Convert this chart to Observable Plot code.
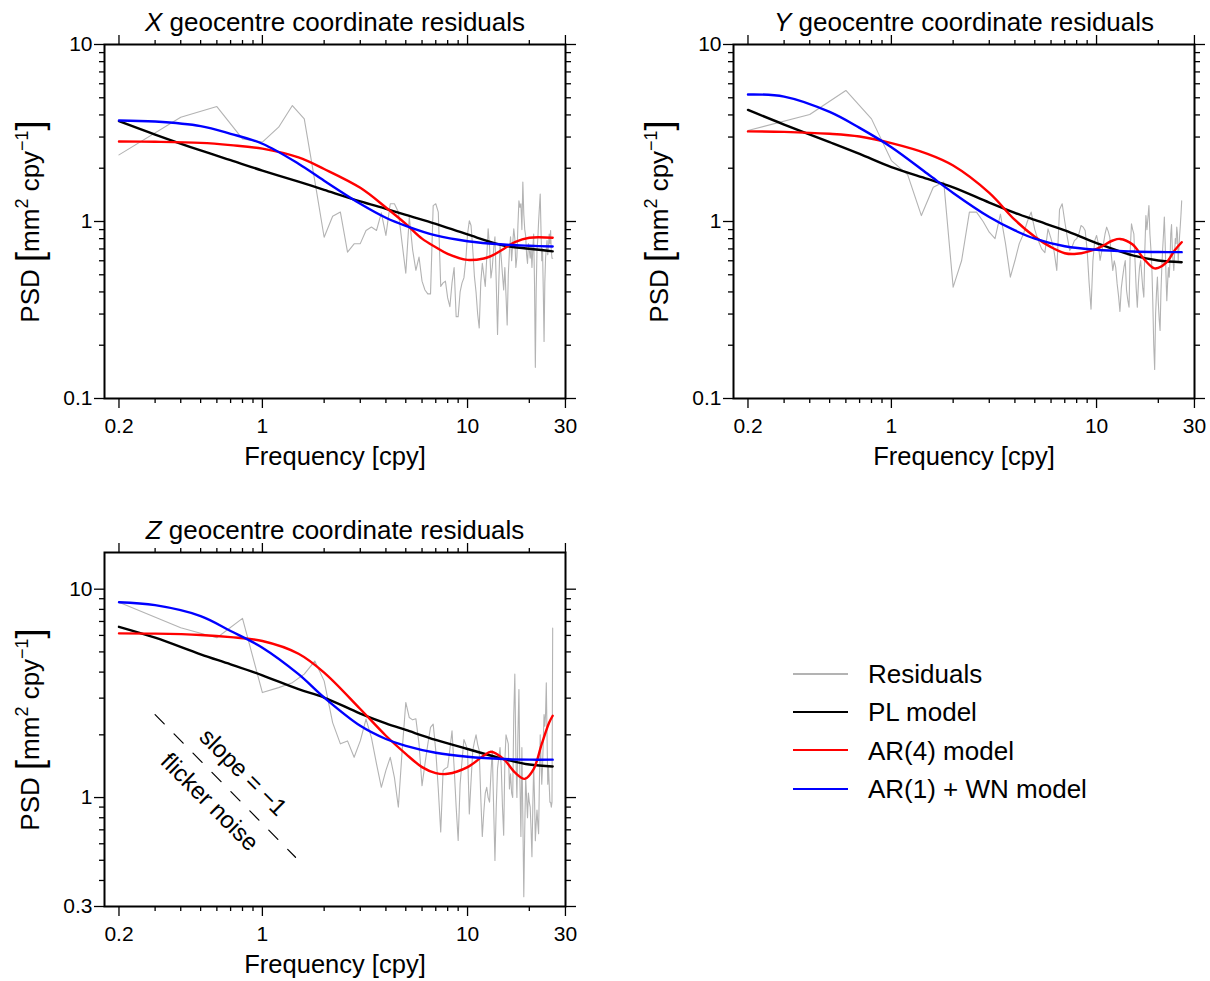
<!DOCTYPE html>
<html>
<head>
<meta charset="utf-8">
<script src="https://cdn.jsdelivr.net/npm/d3@7"></script>
<script src="https://cdn.jsdelivr.net/npm/@observablehq/plot@0.6"></script>
<style>
  html, body { margin: 0; padding: 0; background: #fff; overflow: hidden; }
  #fig { position: relative; width: 1210px; height: 981px; font-family: "Liberation Sans", Arial, Helvetica, sans-serif; }
  .panel { position: absolute; }
  .lg-line { position: absolute; height: 0; }
  .lg-text { position: absolute; font-size: 26px; line-height: 30px; white-space: nowrap; color: #000; }
</style>
</head>
<body>
<div id="fig"></div>
<script>
// ---------------- data ----------------
const xTicksMajor = [0.2, 1, 10, 30];
const xTicksMinor = [0.3, 0.4, 0.5, 0.6, 0.7, 0.8, 0.9, 2, 3, 4, 5, 6, 7, 8, 9, 20];
const yTicksMajorXY = [0.1, 1, 10];
const yTicksMinorXY = [0.2, 0.3, 0.4, 0.5, 0.6, 0.7, 0.8, 0.9, 2, 3, 4, 5, 6, 7, 8, 9];
const yTicksMajorZ = [0.3, 1, 10];
const yTicksMinorZ = [0.4, 0.5, 0.6, 0.7, 0.8, 0.9, 2, 3, 4, 5, 6, 7, 8, 9];

const panelTitles = ["X", "Y", "Z"];

// periodogram frequencies (cpy)
const resFreq = [0.2,0.4,0.6,0.8,1.0,1.2,1.4,1.6,1.8,2.0,2.2,2.4,2.6,2.8,3.0,3.2,3.4,3.6,3.8,4.0,
 4.2,4.4,4.6,4.8,5.0,5.2,5.4,5.6,5.8,6.0,6.2,6.4,6.6,6.8,7.0,7.2,7.4,7.6,7.8,8.0,
 8.2,8.4,8.6,8.8,9.0,9.2,9.4,9.6,9.8,10.0,10.2,10.4,10.6,10.8,11.0,11.2,11.4,11.6,11.8,12.0,
 12.2,12.4,12.6,12.8,13.0,13.2,13.4,13.6,13.8,14.0,14.2,14.4,14.6,14.8,15.0,15.2,15.4,15.6,15.8,16.0,
 16.2,16.4,16.6,16.8,17.0,17.2,17.4,17.6,17.8,18.0,18.2,18.4,18.6,18.8,19.0,19.2,19.4,19.6,19.8,20.0,
 20.2,20.4,20.6,20.8,21.0,21.2,21.4,21.6,21.8,22.0,22.2,22.4,22.6,22.8,23.0,23.2,23.4,23.6,23.8,24.0,
 24.2,24.4,24.6,24.8,25.0,25.2,25.4,25.6,25.8,26.0];

const resX = [2.38,3.88,4.46,2.93,2.81,3.41,4.52,3.80,1.70,0.815,1.07,1.13,0.671,0.748,0.75,0.89,0.93,0.89,1.12,0.834,
 1.26,1.26,1.13,0.75,0.51,1.06,0.69,0.53,0.63,0.46,0.41,0.39,0.39,1.23,1.26,1.13,0.43,0.45,0.46,0.37,
 0.33,0.45,0.55,0.29,0.29,0.40,0.45,0.48,0.60,0.85,1.01,0.95,0.70,0.49,0.40,0.30,0.25,0.45,0.58,0.50,
 0.43,0.62,0.91,0.72,0.48,0.55,0.70,0.82,0.45,0.23,0.45,0.75,0.62,0.50,0.41,0.55,0.38,0.26,0.50,0.68,
 0.82,0.60,0.75,0.91,0.80,0.55,0.63,0.95,1.31,1.20,1.26,0.90,1.67,1.10,0.90,0.83,0.65,0.58,0.75,0.69,
 0.62,0.72,0.55,0.70,0.85,0.45,0.15,0.40,0.69,0.80,1.00,1.20,1.43,0.90,0.60,0.70,0.40,0.21,0.45,0.62,
 0.70,0.78,0.65,0.72,0.85,0.75,0.89,0.68,0.62,0.62];

const resY = [3.27,4.02,5.50,3.80,2.21,1.84,1.08,1.56,1.67,0.426,0.602,1.13,1.13,1.00,0.87,0.80,1.10,0.75,0.485,0.60,
 0.75,0.85,1.00,1.13,0.90,0.78,0.70,0.667,0.909,0.80,0.686,0.529,1.17,1.26,1.00,0.816,0.686,0.72,0.78,0.80,
 0.85,0.949,0.93,0.89,0.686,0.45,0.32,0.60,0.78,0.834,0.75,0.602,0.68,0.748,0.85,0.929,0.88,0.816,0.65,0.529,
 0.60,0.55,0.444,0.38,0.31,0.42,0.485,0.55,0.602,0.408,0.36,0.328,0.70,0.97,0.90,0.852,0.60,0.42,0.328,0.45,
 0.55,0.602,0.50,0.42,0.374,0.70,1.08,0.90,1.05,1.23,0.85,0.70,0.552,0.35,0.20,0.146,0.30,0.40,0.485,0.35,
 0.28,0.242,0.40,0.55,0.70,0.85,1.06,0.75,0.50,0.357,0.45,0.55,0.485,0.60,0.85,0.96,0.70,0.60,0.529,0.65,
 0.80,0.75,0.929,0.85,0.60,0.70,0.834,0.95,1.10,1.31];

const resZ = [8.66,6.53,5.85,7.24,3.19,3.37,3.56,3.91,4.52,3.63,2.29,1.81,1.87,1.56,1.87,2.38,1.94,1.45,1.12,1.35,
 1.56,1.25,0.90,1.68,2.86,2.42,2.36,2.39,1.81,1.14,1.45,1.80,2.17,2.25,1.68,1.10,0.683,1.35,1.38,1.40,
 1.70,2.09,1.40,0.90,0.623,1.16,1.50,1.90,1.80,1.68,0.835,1.20,1.68,1.85,2.00,1.80,1.68,1.00,0.65,0.85,
 1.05,1.12,1.00,0.95,1.30,1.68,0.90,0.499,0.90,1.38,1.55,1.74,1.40,0.90,0.66,1.50,2.00,1.90,1.81,1.10,
 1.30,1.05,1.00,2.50,3.91,1.60,1.00,2.00,3.30,1.20,0.65,1.74,0.80,0.334,0.70,1.25,1.00,0.80,1.05,0.95,
 0.90,0.70,0.52,0.90,1.40,1.00,0.62,0.75,0.87,0.75,0.67,1.20,2.00,1.50,1.16,1.40,1.90,2.50,2.20,2.50,
 3.55,2.00,1.16,1.40,1.16,0.95,0.95,0.90,0.95,6.50];

// model curves
const modelFreq = [0.2, 0.3, 0.5, 0.7, 1, 1.5, 2, 3, 4, 5, 7, 10, 15, 20, 26];
const plX  = [3.69, 3.10, 2.52, 2.22, 1.94, 1.68, 1.51, 1.30, 1.18, 1.09, 0.970, 0.845, 0.732, 0.701, 0.678];
const ar1X = [3.72, 3.67, 3.46, 3.13, 2.75, 2.12, 1.70, 1.26, 1.05, 0.945, 0.834, 0.774, 0.741, 0.729, 0.722];
const plY  = [4.27, 3.53, 2.81, 2.41, 2.03, 1.74, 1.56, 1.28, 1.12, 1.02, 0.89, 0.755, 0.643, 0.602, 0.589];
const ar1Y = [5.22, 5.08, 4.16, 3.38, 2.63, 1.86, 1.45, 1.06, 0.89, 0.80, 0.725, 0.692, 0.677, 0.672, 0.671];
const plZ  = [6.60, 5.85, 4.87, 4.36, 3.86, 3.31, 3.02, 2.53, 2.27, 2.11, 1.89, 1.71, 1.53, 1.44, 1.41];
const ar1Z = [8.66, 8.38, 7.43, 6.30, 5.24, 3.91, 3.02, 2.21, 1.91, 1.77, 1.64, 1.57, 1.53, 1.52, 1.52];

const ar4FreqX = [0.2, 0.3, 0.5, 0.7, 1, 1.5, 2, 3, 4, 5, 6, 7, 8, 10, 12, 13, 15, 17, 20, 26];
const ar4X     = [2.83, 2.82, 2.78, 2.70, 2.58, 2.30, 1.98, 1.55, 1.20, 0.97, 0.80, 0.716, 0.657, 0.607, 0.618, 0.637, 0.70, 0.764, 0.809, 0.809];
const ar4FreqY = [0.2, 0.3, 0.5, 0.7, 1, 1.5, 2, 3, 4, 5, 6, 7, 8, 10, 12, 13, 15, 17, 19, 20, 22, 24, 26];
const ar4Y     = [3.23, 3.21, 3.13, 3.02, 2.77, 2.41, 2.07, 1.45, 1.02, 0.82, 0.716, 0.662, 0.657, 0.701, 0.781, 0.797, 0.741, 0.615, 0.545, 0.547, 0.589, 0.686, 0.764];
const ar4FreqZ = [0.2, 0.3, 0.5, 0.7, 1, 1.5, 2, 3, 4, 5, 6, 7, 8, 10, 12, 13, 15, 17, 19, 21, 23, 25, 26];
const ar4Z     = [6.14, 6.12, 6.03, 5.89, 5.64, 4.90, 3.98, 2.66, 1.98, 1.62, 1.40, 1.31, 1.30, 1.40, 1.59, 1.66, 1.53, 1.32, 1.23, 1.37, 1.81, 2.29, 2.47];

// flicker-noise reference (slope -1) in the Z panel
const slopeFreq = [0.3, 1.45];
const slopePsd = [2.5, 0.517];
const noteText = ["slope = \u22121", "flicker noise"];
const noteFreq = [0.805, 0.553];
const notePsd = [1.32, 0.95];

const legendLabels = ["Residuals", "PL model", "AR(4) model", "AR(1) + WN model"];

// ---------------- drawing ----------------
const FONT = '"Liberation Sans", Arial, Helvetica, sans-serif';
const COL = {res: "#b3b3b3", pl: "#000000", ar4: "#ff0000", ar1: "#0000ff"};
const rows = (fs, vs) => fs.map((f, i) => ({f, v: vs[i]}));
const yLabel = "PSD [mm2 cpy-1]";
const titleSuffix = " geocentre coordinate residuals";

function makePanel(cfg) {
  const ax = {stroke: "black", strokeWidth: 1.3, label: null, tickFormat: () => ""};
  const lineOpts = {x: "f", y: "v", strokeWidth: 2.4, curve: "catmull-rom", clip: true};
  const marks = [
    Plot.line(rows(resFreq, cfg.res), {x: "f", y: "v", stroke: COL.res, strokeWidth: 1.1, clip: true}),
    Plot.line(rows(modelFreq, cfg.pl), {...lineOpts, stroke: COL.pl}),
    Plot.line(rows(cfg.ar4Freq, cfg.ar4), {...lineOpts, stroke: COL.ar4}),
    Plot.line(rows(modelFreq, cfg.ar1), {...lineOpts, stroke: COL.ar1})
  ];
  if (cfg.annotate) {
    marks.push(
      Plot.line(rows(slopeFreq, slopePsd), {x: "f", y: "v", stroke: "black", strokeWidth: 1.2, strokeDasharray: "13,14"}),
      Plot.text(noteText.map((t, i) => ({t, f: noteFreq[i], v: notePsd[i]})),
        {x: "f", y: "v", text: "t", rotate: 45, fontSize: 24, fill: "black"})
    );
  }
  marks.push(
    Plot.frame({stroke: "black", strokeWidth: 2}),
    // ticks on all four sides (outward)
    Plot.axisX(xTicksMajor, {anchor: "bottom", tickSize: 10, ...ax}),
    Plot.axisX(xTicksMinor, {anchor: "bottom", tickSize: 5, ...ax}),
    Plot.axisX(xTicksMajor, {anchor: "top", tickSize: 10, ...ax}),
    Plot.axisX(xTicksMinor, {anchor: "top", tickSize: 5, ...ax}),
    Plot.axisY(cfg.yMajor, {anchor: "left", tickSize: 10, ...ax}),
    Plot.axisY(cfg.yMinor, {anchor: "left", tickSize: 5, ...ax}),
    Plot.axisY(cfg.yMajor, {anchor: "right", tickSize: 10, ...ax}),
    Plot.axisY(cfg.yMinor, {anchor: "right", tickSize: 5, ...ax}),
    // tick labels
    Plot.text(xTicksMajor, {x: d => d, text: d => String(d), frameAnchor: "bottom", dy: 28, fontSize: 21, fill: "black", textAnchor: "middle", lineAnchor: "middle"}),
    Plot.text(cfg.yMajor, {y: d => d, text: d => String(d), frameAnchor: "left", dx: -12, fontSize: 21, fill: "black", textAnchor: "end", lineAnchor: "middle"}),
    // titles
    Plot.text([cfg.title + titleSuffix], {text: d => d, frameAnchor: "top", dy: -32, fontSize: 26, fill: "black", textAnchor: "middle"}),
    Plot.text(["Frequency [cpy]"], {text: d => d, frameAnchor: "bottom", dy: 66, fontSize: 25.5, fill: "black", textAnchor: "middle"}),
    Plot.text([yLabel], {text: d => d, frameAnchor: "left", dx: -74, rotate: -90, fontSize: 26, fill: "black", textAnchor: "middle"})
  );
  const svg = Plot.plot({
    width: 580, height: 480,
    marginLeft: 104, marginRight: 15, marginTop: 44, marginBottom: 82,
    x: {type: "log", domain: [0.17, 30.02]},
    y: {type: "log", domain: cfg.yDomain},
    style: {fontFamily: FONT, fontSize: "20px", color: "black", background: "white", overflow: "visible"},
    marks
  });
  const texts = d3.select(svg).selectAll("text");
  // rich text: italic coordinate letter in the title
  texts.filter(function() { return this.textContent === cfg.title + titleSuffix; }).each(function() {
    const t = d3.select(this);
    t.text(null);
    t.append("tspan").attr("font-style", "italic").text(cfg.title);
    t.append("tspan").text(titleSuffix);
  });
  // rich text: brackets and superscripts in the y label
  texts.filter(function() { return this.textContent === yLabel; }).each(function() {
    const y = d3.select(this);
    y.text(null);
    y.append("tspan").text("PSD ");
    y.append("tspan").attr("font-size", 36).attr("font-weight", 300).attr("dy", 3).text("[");
    y.append("tspan").attr("dy", -3).text("mm");
    y.append("tspan").attr("font-size", 18).attr("dy", -11).text("2");
    y.append("tspan").attr("dy", 11).text(" cpy");
    y.append("tspan").attr("font-size", 18).attr("dy", -11).text("\u22121");
    y.append("tspan").attr("font-size", 36).attr("font-weight", 300).attr("dy", 14).text("]");
  });
  const wrap = document.createElement("div");
  wrap.className = "panel";
  wrap.style.left = cfg.left + "px";
  wrap.style.top = cfg.top + "px";
  wrap.appendChild(svg);
  return wrap;
}

const fig = document.getElementById("fig");
fig.appendChild(makePanel({title: panelTitles[0], yDomain: [0.1, 10], yMajor: yTicksMajorXY, yMinor: yTicksMinorXY,
  res: resX, pl: plX, ar4Freq: ar4FreqX, ar4: ar4X, ar1: ar1X, left: 0, top: 0}));
fig.appendChild(makePanel({title: panelTitles[1], yDomain: [0.1, 10], yMajor: yTicksMajorXY, yMinor: yTicksMinorXY,
  res: resY, pl: plY, ar4Freq: ar4FreqY, ar4: ar4Y, ar1: ar1Y, left: 629, top: 0}));
fig.appendChild(makePanel({title: panelTitles[2], yDomain: [0.3, 15], yMajor: yTicksMajorZ, yMinor: yTicksMinorZ,
  res: resZ, pl: plZ, ar4Freq: ar4FreqZ, ar4: ar4Z, ar1: ar1Z, left: 0, top: 508, annotate: true}));

// legend
const legendColors = [COL.res, COL.pl, COL.ar4, COL.ar1];
const legendWidths = [2, 2.5, 2.5, 2.5];
legendLabels.forEach((label, i) => {
  const cy = 674 + i * 38.3;
  const line = document.createElement("div");
  line.className = "lg-line";
  line.style.left = "793px";
  line.style.width = "55px";
  line.style.top = (cy - legendWidths[i] / 2) + "px";
  line.style.borderTop = legendWidths[i] + "px solid " + legendColors[i];
  fig.appendChild(line);
  const txt = document.createElement("div");
  txt.className = "lg-text";
  txt.style.left = "868px";
  txt.style.top = (cy - 15) + "px";
  txt.textContent = label;
  fig.appendChild(txt);
});
</script>
</body>
</html>
